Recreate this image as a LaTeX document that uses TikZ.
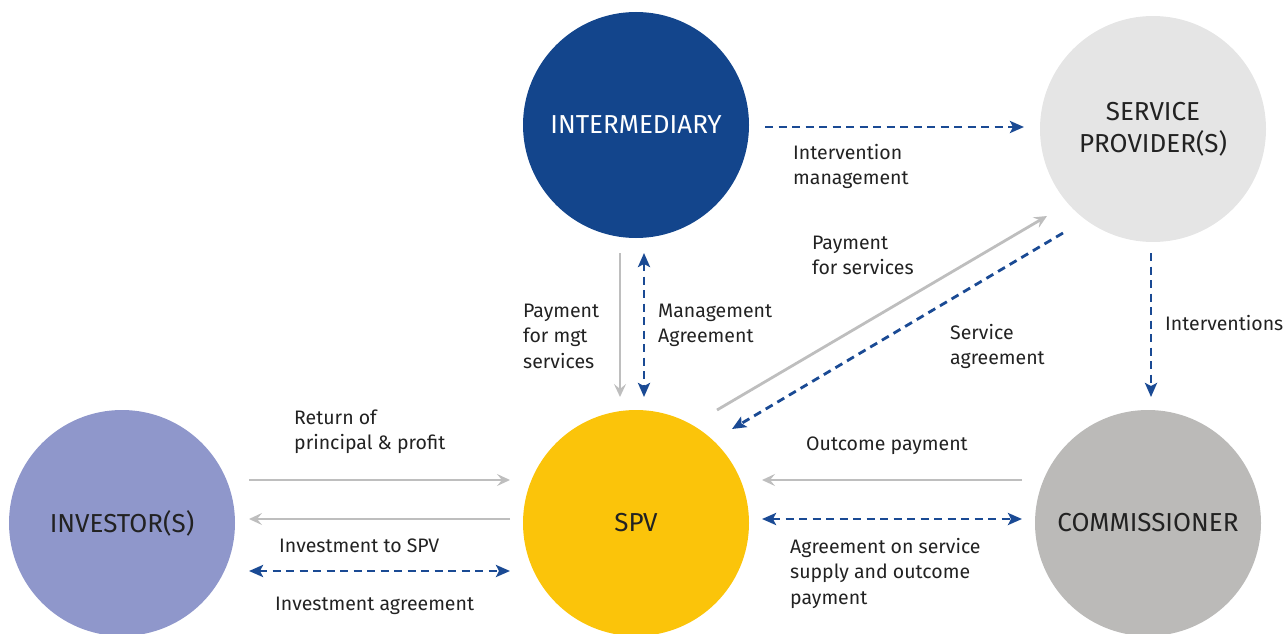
\documentclass[tikz,border=0pt]{standalone}
\usepackage{fontspec}
\setmainfont{Fira Sans}
\usetikzlibrary{arrows.meta}
\definecolor{cInter}{RGB}{19,69,140}
\definecolor{cServ}{RGB}{229,229,229}
\definecolor{cInv}{RGB}{143,151,203}
\definecolor{cSpv}{RGB}{251,196,10}
\definecolor{cComm}{RGB}{187,186,184}
\definecolor{cGrayArr}{RGB}{190,190,190}
\definecolor{cBlueArr}{RGB}{26,74,148}
\definecolor{cText}{RGB}{34,34,34}
\tikzset{
  party/.style={circle, minimum size=226pt, inner sep=0pt, align=center,
    font=\fontsize{26}{32}\selectfont, text=cText},
  lbl/.style={anchor=base west, align=left, inner sep=0pt,
    font=\fontsize{19.5}{25.5}\selectfont, text=cText},
  money/.style={draw=cGrayArr, line width=2.8pt,
    -{Stealth[length=13pt,width=12pt,inset=5pt]}},
  agree/.style={draw=cBlueArr, line width=2.8pt, dash pattern=on 8pt off 5.5pt,
    -{Stealth[length=14pt,width=12pt,inset=3pt]}},
  agree2/.style={agree, {Stealth[length=14pt,width=12pt,inset=3pt]}-{Stealth[length=14pt,width=12pt,inset=3pt]}},
}
\begin{document}
\begin{tikzpicture}[x=1pt,y=-1pt]
\useasboundingbox (0,0) rectangle (1285,634);
\clip (0,0) rectangle (1285,634);
% parties
\node[party, fill=cInter, text=white] (inter) at (636,125) {INTERMEDIARY};
\node[party, fill=cServ] (serv) at (1153,129) {SERVICE\\PROVIDER(S)};
\node[party, fill=cInv] (inv) at (122,523) {INVESTOR(S)};
\node[party, fill=cSpv] (spv) at (636,523) {SPV};
\node[party, fill=cComm] (comm) at (1148,523) {COMMISSIONER};
% connector end points
\coordinate (i2sA) at (765,127);   \coordinate (i2sB) at (1024,127);
\coordinate (s2cA) at (1151,253);  \coordinate (s2cB) at (1151,397);
\coordinate (i2pA) at (620,253);   \coordinate (i2pB) at (620,397);
\coordinate (imA) at (644,253);    \coordinate (imB) at (644,397);
\coordinate (p2sA) at (717,410);   \coordinate (p2sB) at (1047,216);
\coordinate (s2pA) at (1063,233);  \coordinate (s2pB) at (732,429);
\coordinate (v2pA) at (249,480);   \coordinate (v2pB) at (510,480);
\coordinate (p2vA) at (510,519);   \coordinate (p2vB) at (249,519);
\coordinate (vaA) at (249,571);    \coordinate (vaB) at (510,571);
\coordinate (c2pA) at (1022,480);  \coordinate (c2pB) at (762,480);
\coordinate (caA) at (762,519);    \coordinate (caB) at (1022,519);
% connectors
\draw[agree] (i2sA) -- (i2sB);
\draw[agree] (s2cA) -- (s2cB);
\draw[money] (i2pA) -- (i2pB);
\draw[agree2] (imA) -- (imB);
\draw[money] (p2sA) -- (p2sB);
\draw[agree] (s2pA) -- (s2pB);
\draw[money] (v2pA) -- (v2pB);
\draw[money] (p2vA) -- (p2vB);
\draw[agree2] (vaA) -- (vaB);
\draw[money] (c2pA) -- (c2pB);
\draw[agree2] (caA) -- (caB);
% labels (anchor = baseline of last line)
\node[lbl] (l1) at (793,184.5) {Intervention\\management};
\node[lbl] (l2) at (1165,330) {Interventions};
\node[lbl] (l3) at (523,368) {Payment\\for mgt\\services};
\node[lbl] (l4) at (658,342.5) {Management\\Agreement};
\node[lbl] (l5) at (812,274.5) {Payment\\for services};
\node[lbl] (l6) at (950,364.5) {Service\\agreement};
\node[lbl] (l7) at (294,449.5) {Return of\\principal \& profit};
\node[lbl] (l8) at (279,552) {Investment to SPV};
\node[lbl] (l9) at (275,610) {Investment agreement};
\node[lbl] (l10) at (806,450) {Outcome payment};
\node[lbl] (l11) at (790,604) {Agreement on service\\supply and outcome\\payment};
\end{tikzpicture}
\end{document}
